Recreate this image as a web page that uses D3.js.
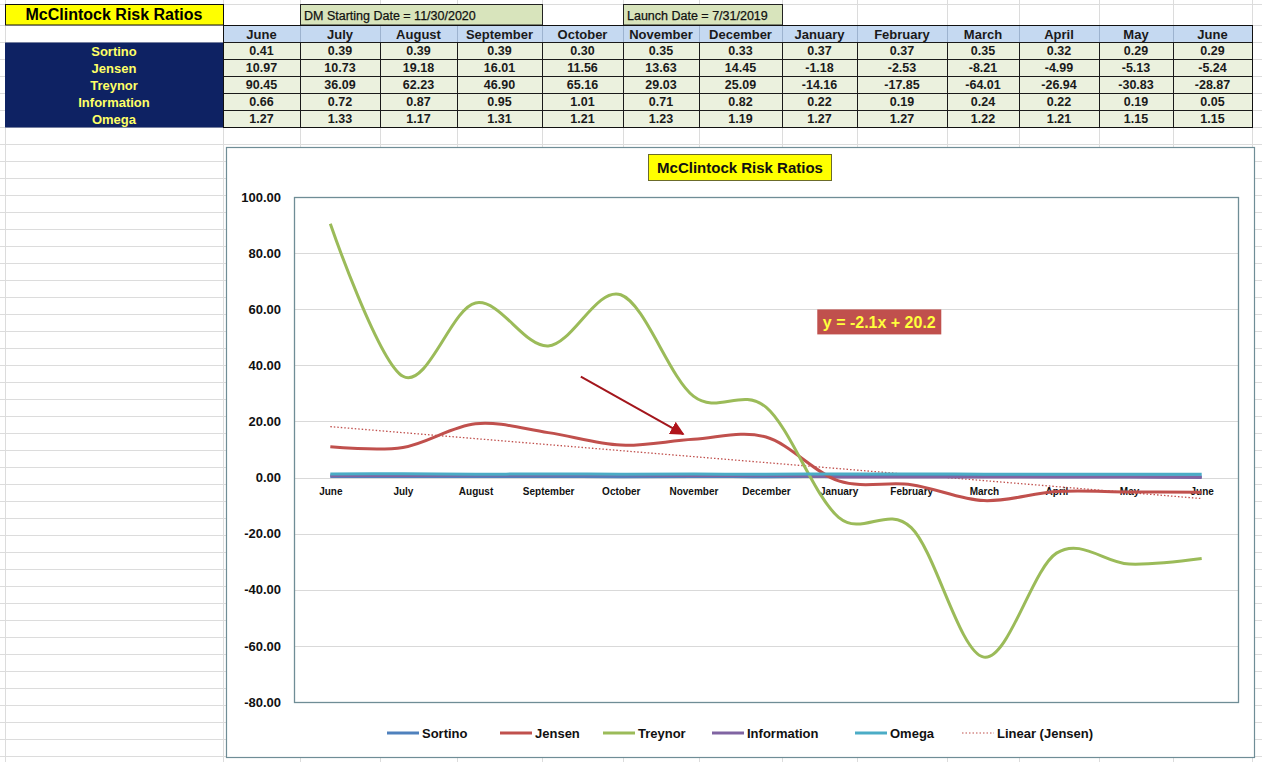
<!DOCTYPE html>
<html>
<head>
<meta charset="utf-8">
<script src="https://cdn.jsdelivr.net/npm/d3@7"></script>
<style>
  body { margin: 0; background: #fff; }
  svg { display: block; }
  .cell { font-family: "Liberation Sans", Arial, sans-serif; }
  .chartText { font-family: "Liberation Sans", Arial, sans-serif; }
</style>
</head>
<body>
<div id="sheet"></div>
<script>

// data from the sheet
var months = ["June", "July", "August", "September", "October", "November", "December",
  "January", "February", "March", "April", "May", "June"];
var sortino = [0.41, 0.39, 0.39, 0.39, 0.30, 0.35, 0.33, 0.37, 0.37, 0.35, 0.32, 0.29, 0.29];
var jensen = [10.97, 10.73, 19.18, 16.01, 11.56, 13.63, 14.45, -1.18, -2.53, -8.21, -4.99, -5.13, -5.24];
var treynor = [90.45, 36.09, 62.23, 46.90, 65.16, 29.03, 25.09, -14.16, -17.85, -64.01, -26.94, -30.83, -28.87];
var information = [0.66, 0.72, 0.87, 0.95, 1.01, 0.71, 0.82, 0.22, 0.19, 0.24, 0.22, 0.19, 0.05];
var omega = [1.27, 1.33, 1.17, 1.31, 1.21, 1.23, 1.19, 1.27, 1.27, 1.22, 1.21, 1.15, 1.15];
var seriesNames = ["Sortino", "Jensen", "Treynor", "Information", "Omega"];
var yTicks = [-80, -60, -40, -20, 0, 20, 40, 60, 80, 100];
var dmDate = "DM Starting Date = 11/30/2020";
var launchDate = "Launch Date = 7/31/2019";
var titleText = "McClintock Risk Ratios";
var eqText = "y = -2.1x + 20.2";
// arrow annotation in data units (category index, value)
var arrowFrom = [3.45, 36];
var arrowTo = [4.86, 15.5];
var eqAt = [7.56, 55.3];

var width = 1262;
var height = 762;

var fmt = d3.formatLocale({ decimal: ".", thousands: ",", grouping: [3], currency: ["", ""], minus: "-" }).format(".2f");

var colors = {
  Sortino: "#4f81bd",
  Jensen: "#c0504d",
  Treynor: "#9bbb59",
  Information: "#8064a2",
  Omega: "#4bacc6"
};
var seriesData = {
  Sortino: sortino, Jensen: jensen, Treynor: treynor,
  Information: information, Omega: omega
};

var svg = d3.select("#sheet").append("svg")
  .attr("width", width)
  .attr("height", height);

// spreadsheet grid
var colEdges = [5, 223, 300, 380, 457, 542, 623, 699, 782, 857, 947, 1019, 1099, 1173, 1252];
var rowTop = 25;
var rowH = 17;

var grid = svg.append("g").attr("stroke", "#dcdcdc").attr("stroke-width", 1);
for (var y = rowTop; y < height; y += rowH) {
  grid.append("line").attr("x1", 0).attr("x2", width).attr("y1", y + 0.5).attr("y2", y + 0.5);
}
grid.append("line").attr("x1", 0).attr("x2", width).attr("y1", 4.5).attr("y2", 4.5);
colEdges.forEach(function(x) {
  grid.append("line").attr("x1", x + 0.5).attr("x2", x + 0.5).attr("y1", 0).attr("y2", height);
});

// title cell
svg.append("rect").attr("x", 5.5).attr("y", 4.5).attr("width", 218).attr("height", 20.5)
  .attr("fill", "#ffff00").attr("stroke", "#111");
svg.append("text").attr("class", "cell")
  .attr("x", 114).attr("y", 20).attr("text-anchor", "middle")
  .attr("font-size", 16).attr("font-weight", "bold")
  .text(titleText);

// date boxes
function dateBox(x0, x1, txt) {
  svg.append("rect").attr("x", x0 + 0.5).attr("y", 4.5).attr("width", x1 - x0).attr("height", 20.5)
    .attr("fill", "#d8e4bc").attr("stroke", "#222");
  svg.append("text").attr("class", "cell")
    .attr("x", x0 + 4).attr("y", 19.5)
    .attr("font-size", 12.5).attr("fill", "#111")
    .attr("stroke", "#111").attr("stroke-width", 0.25)
    .text(txt);
}
dateBox(colEdges[2], colEdges[5], dmDate);
dateBox(colEdges[6], colEdges[8], launchDate);

// header row
months.forEach(function(m, i) {
  var x0 = colEdges[i + 1], x1 = colEdges[i + 2];
  svg.append("rect").attr("x", x0 + 0.5).attr("y", rowTop + 0.5).attr("width", x1 - x0).attr("height", rowH)
    .attr("fill", "#c5d9f1").attr("stroke", "#9db3cf");
  svg.append("text").attr("class", "cell")
    .attr("x", (x0 + x1) / 2).attr("y", rowTop + 13.5).attr("text-anchor", "middle")
    .attr("font-size", 13).attr("font-weight", "bold").attr("fill", "#1a1a1a")
    .text(m);
});

// label column
svg.append("rect").attr("x", 5).attr("y", rowTop + rowH + 0.5).attr("width", 218).attr("height", rowH * 5)
  .attr("fill", "#0e2263");

seriesNames.forEach(function(name, r) {
  var yTop = rowTop + rowH * (r + 1);
  svg.append("text").attr("class", "cell")
    .attr("x", 114).attr("y", yTop + 13.5).attr("text-anchor", "middle")
    .attr("font-size", 13).attr("font-weight", "bold").attr("fill", "#ffff66")
    .text(name);
  seriesData[name].forEach(function(v, i) {
    var x0 = colEdges[i + 1], x1 = colEdges[i + 2];
    svg.append("rect").attr("x", x0 + 0.5).attr("y", yTop + 0.5).attr("width", x1 - x0).attr("height", rowH)
      .attr("fill", "#ebf1de").attr("stroke", "#1a1a1a");
    svg.append("text").attr("class", "cell")
      .attr("x", (x0 + x1) / 2).attr("y", yTop + 13).attr("text-anchor", "middle")
      .attr("font-size", 12.5).attr("font-weight", "bold").attr("fill", "#1a1a1a")
      .text(fmt(v));
  });
});
svg.append("rect").attr("x", colEdges[1] + 0.5).attr("y", rowTop + 0.5)
  .attr("width", colEdges[14] - colEdges[1]).attr("height", rowH * 6)
  .attr("fill", "none").attr("stroke", "#111");

// chart area
var chartBox = { x: 226, y: 147, w: 1028, h: 610 };
var plot = { left: 294, top: 197, right: 1238, bottom: 702 };

svg.append("rect").attr("x", chartBox.x + 0.5).attr("y", chartBox.y + 0.5)
  .attr("width", chartBox.w).attr("height", chartBox.h)
  .attr("fill", "#fff").attr("stroke", "#6f8d96").attr("stroke-width", 1.2);

var xScale = d3.scalePoint()
  .domain(d3.range(months.length))
  .range([plot.left, plot.right])
  .padding(0.5);

var yScale = d3.scaleLinear()
  .domain([-80, 100])
  .range([plot.bottom, plot.top]);

// gridlines
svg.append("g").selectAll("line").data(yTicks).enter().append("line")
  .attr("x1", plot.left).attr("x2", plot.right)
  .attr("y1", function(d) { return Math.round(yScale(d)) + 0.5; })
  .attr("y2", function(d) { return Math.round(yScale(d)) + 0.5; })
  .attr("stroke", "#d9d9d9").attr("stroke-width", 1);

svg.append("rect").attr("x", plot.left + 0.5).attr("y", plot.top + 0.5)
  .attr("width", plot.right - plot.left).attr("height", plot.bottom - plot.top)
  .attr("fill", "none").attr("stroke", "#6f8d96").attr("stroke-width", 1.3);

// y axis
var yAxis = d3.axisLeft(yScale).tickValues(yTicks).tickSize(0).tickPadding(13)
  .tickFormat(fmt);
var yG = svg.append("g").attr("transform", "translate(" + plot.left + ",0)").call(yAxis);
yG.select(".domain").remove();
yG.selectAll("text")
  .attr("class", "cell")
  .attr("font-size", 13).attr("font-weight", "bold").attr("fill", "#111");

// category labels under the zero line
var xAxis = d3.axisBottom(xScale).tickSize(0).tickPadding(10)
  .tickFormat(function(i) { return months[i]; });
var xG = svg.append("g").attr("transform", "translate(0," + yScale(0) + ")").call(xAxis);
xG.select(".domain").remove();
xG.selectAll("text")
  .attr("class", "chartText")
  .attr("font-size", 10).attr("font-weight", "bold").attr("fill", "#111");

// trend line for Jensen
var xs = d3.range(1, jensen.length + 1);
var xMean = d3.mean(xs), yMean = d3.mean(jensen);
var sxy = d3.sum(xs, function(x, i) { return (x - xMean) * (jensen[i] - yMean); });
var sxx = d3.sum(xs, function(x) { return (x - xMean) * (x - xMean); });
var slope = sxy / sxx;
var intercept = yMean - slope * xMean;

// lines
var line = d3.line()
  .x(function(d, i) { return xScale(i); })
  .y(function(d) { return yScale(d); })
  .curve(d3.curveCardinal.tension(0));

svg.append("line")
  .attr("x1", xScale(0)).attr("y1", yScale(intercept + slope * 1))
  .attr("x2", xScale(jensen.length - 1)).attr("y2", yScale(intercept + slope * jensen.length))
  .attr("stroke", "#c0504d").attr("stroke-width", 1.3)
  .attr("stroke-dasharray", "1.5,2");

["Sortino", "Information", "Jensen", "Treynor", "Omega"].forEach(function(name) {
  svg.append("path")
    .datum(seriesData[name])
    .attr("d", line)
    .attr("fill", "none")
    .attr("stroke", colors[name])
    .attr("stroke-width", 3)
    .attr("stroke-linejoin", "round");
});

// arrow annotation
svg.append("defs").append("marker")
  .attr("id", "head")
  .attr("viewBox", "0 0 10 10")
  .attr("refX", 9).attr("refY", 5)
  .attr("markerWidth", 7).attr("markerHeight", 7)
  .attr("markerUnits", "strokeWidth")
  .attr("orient", "auto")
  .append("path").attr("d", "M0,0 L10,5 L0,10 z").attr("fill", "#b0141b");

function px(p) { return [xScale(0) + (xScale(1) - xScale(0)) * p[0], yScale(p[1])]; }
var a0 = px(arrowFrom), a1 = px(arrowTo);
svg.append("line")
  .attr("x1", a0[0]).attr("y1", a0[1]).attr("x2", a1[0]).attr("y2", a1[1])
  .attr("stroke", "#a3161c").attr("stroke-width", 2)
  .attr("marker-end", "url(#head)");

// equation label
var eq = px(eqAt);
svg.append("rect").attr("x", eq[0] - 62).attr("y", eq[1] - 13).attr("width", 124).attr("height", 25)
  .attr("fill", "#c0504d");
svg.append("text").attr("class", "chartText")
  .attr("x", eq[0]).attr("y", eq[1] + 5.5).attr("text-anchor", "middle")
  .attr("font-size", 16).attr("font-weight", "bold").attr("fill", "#ffff3c")
  .text(eqText);

// chart title
svg.append("rect").attr("x", 648.5).attr("y", 154.5).attr("width", 183).attr("height", 26)
  .attr("fill", "#ffff00").attr("stroke", "#6b6b2a");
svg.append("text").attr("class", "chartText")
  .attr("x", 740).attr("y", 173).attr("text-anchor", "middle")
  .attr("font-size", 15).attr("font-weight", "bold").attr("fill", "#111")
  .text(titleText);

// legend
var legendItems = [
  { name: "Sortino", x: 387 },
  { name: "Jensen", x: 500 },
  { name: "Treynor", x: 603 },
  { name: "Information", x: 712 },
  { name: "Omega", x: 855 },
  { name: "Linear (Jensen)", x: 962, dotted: true }
];
var legendY = 733;
legendItems.forEach(function(d) {
  svg.append("line")
    .attr("x1", d.x).attr("x2", d.x + 32)
    .attr("y1", legendY).attr("y2", legendY)
    .attr("stroke", d.dotted ? "#c0504d" : colors[d.name])
    .attr("stroke-width", d.dotted ? 1.2 : 3)
    .attr("stroke-dasharray", d.dotted ? "1.5,2" : null);
  svg.append("text").attr("class", "chartText")
    .attr("x", d.x + 35).attr("y", legendY + 5)
    .attr("font-size", 13).attr("font-weight", "bold").attr("fill", "#111")
    .text(d.name);
});

</script>
</body>
</html>
